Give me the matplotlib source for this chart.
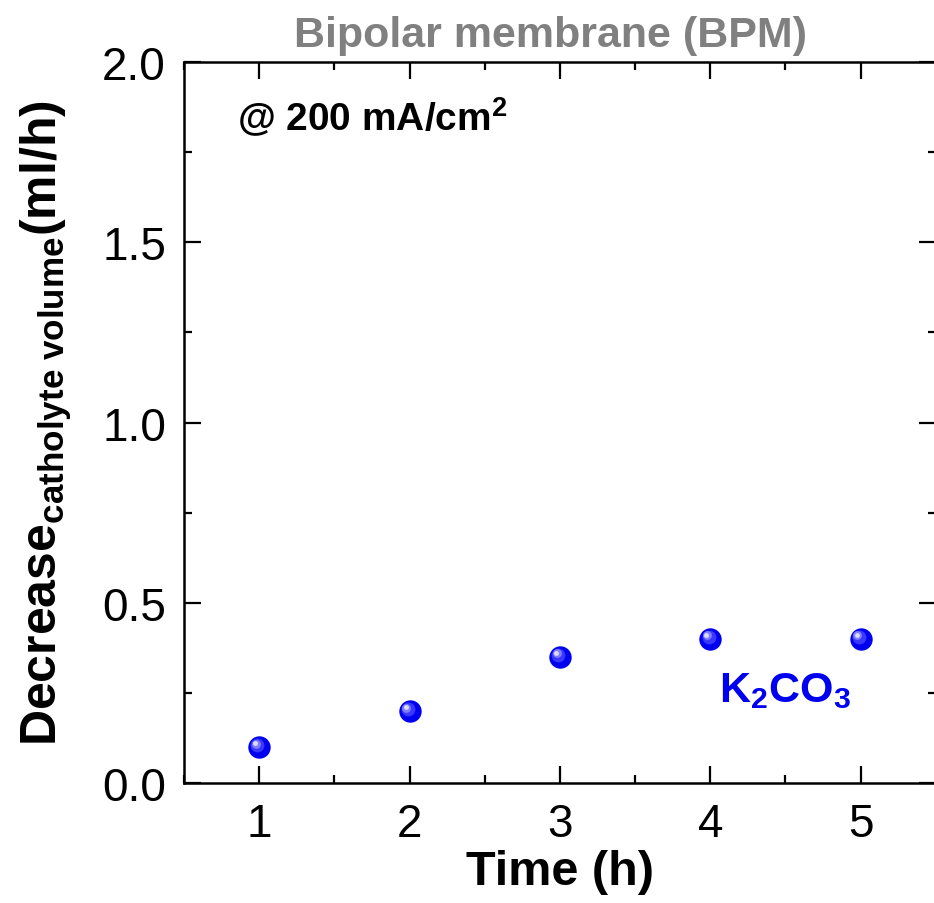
import matplotlib
matplotlib.use('Agg')
import matplotlib.pyplot as plt
import matplotlib.transforms as mtransforms
from matplotlib.ticker import MultipleLocator

# data
time_h = [1, 2, 3, 4, 5]
decrease = [0.10, 0.20, 0.35, 0.40, 0.40]

plt.rcParams['font.family'] = ['Liberation Sans', 'DejaVu Sans']
plt.rcParams['mathtext.fontset'] = 'custom'
plt.rcParams['mathtext.rm'] = 'Liberation Sans'
plt.rcParams['mathtext.bf'] = 'Liberation Sans:bold'
plt.rcParams['mathtext.it'] = 'Liberation Sans:italic'

fig = plt.figure(figsize=(9.34, 9.04), dpi=100)
ax = fig.add_axes([0.197, 0.133, 0.805, 0.797])

# sphere-like markers: base + shading + highlight
ax.scatter(time_h, decrease, s=260, color='#0000f0', zorder=3, linewidths=0)
off1 = mtransforms.ScaledTranslation(-1.3/72, 1.3/72, fig.dpi_scale_trans)
ax.scatter(time_h, decrease, s=100, color='#3838ff', zorder=4, linewidths=0,
           transform=ax.transData + off1)
off2 = mtransforms.ScaledTranslation(-2.3/72, 2.3/72, fig.dpi_scale_trans)
ax.scatter(time_h, decrease, s=40, color='#8080ff', zorder=5, linewidths=0,
           transform=ax.transData + off2)
off3 = mtransforms.ScaledTranslation(-2.8/72, 2.8/72, fig.dpi_scale_trans)
ax.scatter(time_h, decrease, s=12, color='#dcdcff', zorder=6, linewidths=0,
           transform=ax.transData + off3)

ax.set_xlim(0.5, 5.5)
ax.set_ylim(0, 2.0)
ax.xaxis.set_major_locator(MultipleLocator(1))
ax.xaxis.set_minor_locator(MultipleLocator(0.5))
ax.yaxis.set_major_locator(MultipleLocator(0.5))
ax.yaxis.set_minor_locator(MultipleLocator(0.25))
ax.tick_params(which='both', direction='in', top=True, right=True, width=1.6)
ax.tick_params(which='major', length=12, labelsize=33)
ax.tick_params(axis='y', which='major', pad=13)
ax.tick_params(axis='x', which='major', pad=14)
ax.tick_params(which='minor', length=6)
for sp in ax.spines.values():
    sp.set_linewidth(1.8)

ax.set_xlabel('Time (h)', fontsize=35, fontweight='bold', labelpad=2)
ax.set_ylabel(r'$\mathbf{Decrease_{catholyte\ volume}(ml/h)}$', fontsize=36, labelpad=20)
ax.text(0.487, 1.01, 'Bipolar membrane (BPM)', transform=ax.transAxes, fontsize=31,
        fontweight='bold', color='#808080', ha='center', va='bottom')

ax.text(0.07, 0.955, r'@ 200 mA/cm$^{\mathbf{2}}$', transform=ax.transAxes, fontsize=28,
        fontweight='bold', va='top', ha='left')
ax.text(0.80, 0.128, r'K$_{\mathbf{2}}$CO$_{\mathbf{3}}$', transform=ax.transAxes, fontsize=31,
        fontweight='bold', color='#0000f0', ha='center', va='center')

fig.savefig('out.png', dpi=100)
